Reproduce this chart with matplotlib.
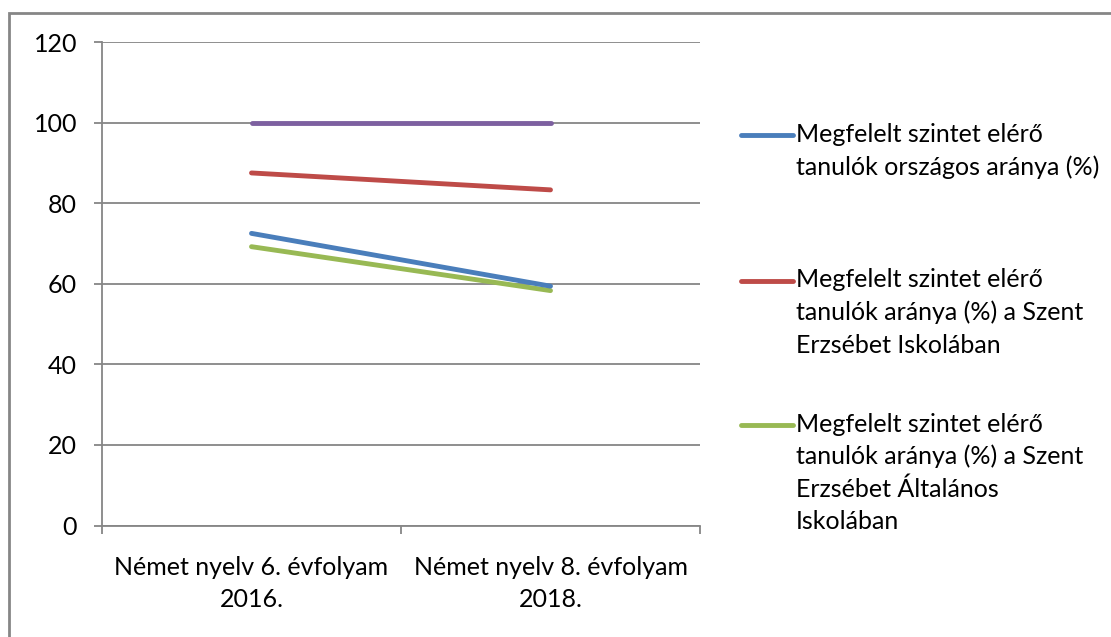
import matplotlib
matplotlib.use("Agg")
import matplotlib.pyplot as plt
from matplotlib.lines import Line2D
from matplotlib.patches import Rectangle

categories = ["Német nyelv 6. évfolyam\n2016.", "Német nyelv 8. évfolyam\n2018."]
orszagos = [72.5, 59.4]
szent_iskola = [87.5, 83.3]
szent_altalanos = [69.2, 58.3]
maximum = [100, 100]
labels = [
    "Megfelelt szintet elérő\ntanulók országos aránya (%)",
    "Megfelelt szintet elérő\ntanulók aránya (%) a Szent\nErzsébet Iskolában",
    "Megfelelt szintet elérő\ntanulók aránya (%) a Szent\nErzsébet Általános\nIskolában",
]
yticks = [0, 20, 40, 60, 80, 100, 120]

FONT = "Lato"
FS = 18
LS = 1.48
W, H = 1111, 637
fig = plt.figure(figsize=(W / 100, H / 100), dpi=100)
plt.rcParams["font.family"] = [FONT, "DejaVu Sans"]

ax = fig.add_axes([102 / W, 1 - 525.5 / H, (700 - 102) / W, (525.5 - 42) / H])
x = list(range(len(categories)))
colors = ["#4A7EBB", "#BE4B48", "#98B954", "#7D60A0"]
lw = 3.5
ax.plot(x, maximum, color=colors[3], lw=lw, solid_capstyle="round", zorder=3)
ax.plot(x, szent_iskola, color=colors[1], lw=lw, solid_capstyle="round", zorder=3)
ax.plot(x, orszagos, color=colors[0], lw=lw, solid_capstyle="round", zorder=4)
ax.plot(x, szent_altalanos, color=colors[2], lw=lw, solid_capstyle="round", zorder=3)

ax.set_xlim(-0.5, len(categories) - 0.5)
ax.set_ylim(0, 120)
ax.set_yticks(yticks)
ax.set_yticklabels([str(v) for v in yticks], fontsize=FS)
ax.set_xticks(x)
ax.set_xticklabels(categories, fontsize=FS, linespacing=LS)
ax.set_xticks([-0.5 + i for i in range(len(categories) + 1)], minor=True)
ax.tick_params(axis="x", which="major", length=0, pad=22)
ax.tick_params(axis="x", which="minor", length=6, color="#868686", width=1.3)
ax.tick_params(axis="y", length=6, color="#868686", width=1.3, pad=12)
ax.grid(axis="y", color="#868686", lw=1.3)
ax.set_axisbelow(True)
for s in ["top", "right"]:
    ax.spines[s].set_visible(False)
for s in ["left", "bottom"]:
    ax.spines[s].set_color("#868686")
    ax.spines[s].set_linewidth(1.3)

# legend (manual, handle aligned to first text line)
leg_y = [135, 280.5, 424.5]
for c, lab, yy in zip(colors[:3], labels, leg_y):
    fy = 1 - yy / H
    fig.add_artist(Line2D([741 / W, 793 / W], [fy, fy], color=c, lw=lw,
                          solid_capstyle="round", transform=fig.transFigure))
    fig.text(796 / W, 1 - (yy - 12) / H, lab, fontsize=FS, va="top", ha="left",
             linespacing=LS)

# outer chart border
fig.add_artist(Rectangle((9 / W, -0.1), 1.2, 1 - 13 / H + 0.1, fill=False,
                         edgecolor="#868686", lw=2, transform=fig.transFigure))

fig.savefig("out.png", dpi=100)
